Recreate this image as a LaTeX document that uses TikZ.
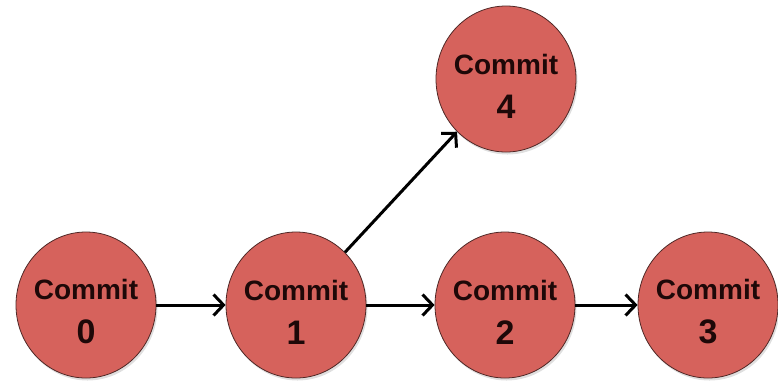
\documentclass[tikz,border=0pt]{standalone}
\usepackage{fontspec}
\setmainfont{Liberation Sans}
\usetikzlibrary{arrows.meta,shapes.geometric,shadows}
\definecolor{commitfill}{RGB}{214,98,92}
\definecolor{commitdraw}{RGB}{80,40,38}
\definecolor{committext}{RGB}{30,8,8}
\newcommand{\cmt}[1]{\rule{0pt}{34pt}Commit\\{\fontsize{34}{44}\selectfont\bfseries #1}}
\tikzset{
  commit/.style={ellipse, draw=commitdraw, line width=0.8pt, fill=commitfill,
    minimum width=140pt, minimum height=146pt, inner xsep=-3pt, inner ysep=0pt, align=center,
    text=committext, font=\fontsize{28}{44}\selectfont\bfseries,
    drop shadow={shadow xshift=1.5pt, shadow yshift=-2.5pt, opacity=0.25}},
  link/.style={line width=3pt, -{Straight Barb[length=10pt,width=21pt,line width=3pt]}}
}
\begin{document}
\begin{tikzpicture}[x=1pt,y=-1pt]
\useasboundingbox (0,0) rectangle (778,384);
\node[commit] (c0) at (86,305) {\cmt{0}};
\node[commit] (c1) at (296,305) {\cmt{1}};
\node[commit] (c2) at (505,305) {\cmt{2}};
\node[commit] (c3) at (708,305) {\cmt{3}};
\node[commit] (c4) at (506,79) {\cmt{4}};
\draw[link] (c0) -- (c1);
\draw[link] (c1) -- (c2);
\draw[link] (c2) -- (c3);
\draw[link] (c1) -- (c4);
\end{tikzpicture}
\end{document}
